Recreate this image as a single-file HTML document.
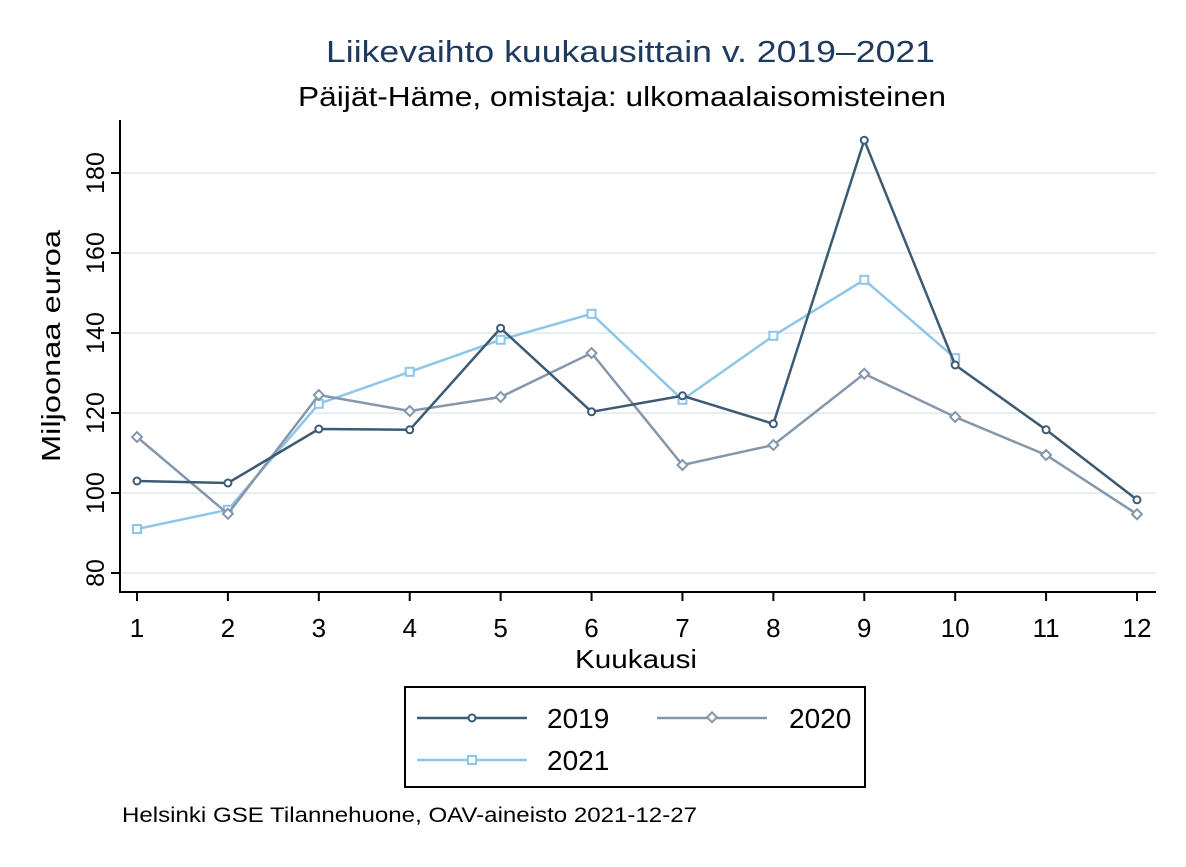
<!DOCTYPE html>
<html><head><meta charset="utf-8"><style>
body{margin:0;background:#fff;font-family:"Liberation Sans",Arial,sans-serif}
</style></head><body>
<svg width="1186" height="862" viewBox="0 0 1186 862" xmlns="http://www.w3.org/2000/svg" font-family="Liberation Sans, Arial, sans-serif">
<rect x="0" y="0" width="1186" height="862" fill="#fff"/>
<text x="326" y="62" font-size="31" fill="#1f3a60" textLength="609" lengthAdjust="spacingAndGlyphs">Liikevaihto kuukausittain v. 2019–2021</text>
<text x="298" y="106" font-size="28" fill="#000" textLength="648" lengthAdjust="spacingAndGlyphs">Päijät-Häme, omistaja: ulkomaalaisomisteinen</text>
<g id="grid"></g>
<g id="axes"></g>
<g id="series"></g>
<text x="575" y="668" font-size="26" textLength="122" lengthAdjust="spacingAndGlyphs">Kuukausi</text>
<text transform="translate(60,462) rotate(-90)" font-size="26" textLength="232" lengthAdjust="spacingAndGlyphs">Miljoonaa euroa</text>
<g>
<rect x="405" y="687" width="460" height="100" fill="#fff" stroke="#000" stroke-width="2"/>
<g>
<line x1="417" y1="718" x2="527" y2="718" stroke="#3d5a73" stroke-width="2.5"/><circle cx="472" cy="718" r="3.5" fill="#fff" stroke="#3d5a73" stroke-width="2"/>
<text x="547" y="728" font-size="28">2019</text></g>
<g>
<line x1="657" y1="718" x2="767" y2="718" stroke="#8497ab" stroke-width="2.5"/><rect x="708" y="714" width="7" height="7" transform="rotate(45 712 718)" fill="#fff" stroke="#8497ab" stroke-width="2"/>
<text x="789" y="728" font-size="28">2020</text></g>
<g>
<line x1="417" y1="760" x2="527" y2="760" stroke="#8ec6ea" stroke-width="2.5"/><rect x="468" y="756" width="8" height="8" fill="#fff" stroke="#8ec6ea" stroke-width="2"/>
<text x="547" y="770" font-size="28">2021</text></g>
</g>
<text x="122" y="822" font-size="21" textLength="575" lengthAdjust="spacingAndGlyphs">Helsinki GSE Tilannehuone, OAV-aineisto 2021-12-27</text>
</svg>
<script>
const months=[1,2,3,4,5,6,7,8,9,10,11,12];
const yTicks=[80,100,120,140,160,180];
const s2019=[103,102.5,116,115.8,141.2,120.3,124.3,117.3,188.2,132,115.8,98.3];
const s2020=[114,94.8,124.5,120.5,124,135,107,112,129.8,119,109.5,94.7];
const s2021=[91,95.8,122.3,130.3,138.3,144.8,123.3,139.3,153.3,133.7];
const NS="http://www.w3.org/2000/svg";
const xs=m=>137+(m-1)*(1000/11);
const ys=v=>573-(v-80)*4;
function mk(t,a,p){const e=document.createElementNS(NS,t);for(const k in a)e.setAttribute(k,a[k]);p.appendChild(e);return e;}
const grid=document.getElementById('grid'),axes=document.getElementById('axes'),ser=document.getElementById('series');
yTicks.forEach(v=>{
 const g=mk('line',{x1:120,x2:1156,y1:ys(v),y2:ys(v),stroke:'#e6eef1','stroke-width':2},grid);
 
 
 mk('line',{x1:111,x2:120,y1:ys(v),y2:ys(v),stroke:'#000','stroke-width':2},axes);
 const t=mk('text',{transform:`translate(104,${ys(v)}) rotate(-90)`,'text-anchor':'middle','font-size':25},axes);
 t.textContent=v;
 
 
});
mk('line',{x1:120,x2:120,y1:120,y2:593,stroke:'#000','stroke-width':2},axes);
mk('line',{x1:119,x2:1156,y1:592,y2:592,stroke:'#000','stroke-width':2},axes);
months.forEach(m=>{
 mk('line',{x1:xs(m),x2:xs(m),y1:592,y2:601,stroke:'#000','stroke-width':2},axes);
 const t=mk('text',{x:xs(m),y:637,'text-anchor':'middle','font-size':26},axes);
 t.textContent=m;
 
 
});
function draw(data,color,shape,name){
 const g=mk('g',{},ser);
 
 
 mk('polyline',{points:data.map((v,i)=>xs(months[i])+','+ys(v)).join(' '),fill:'none',stroke:color,'stroke-width':2.5},g);
 data.forEach((v,i)=>{
  const x=xs(months[i]),y=ys(v);let p;
  if(shape==='c')p=mk('circle',{cx:x,cy:y,r:3.5,fill:'#fff',stroke:color,'stroke-width':2},g);
  else if(shape==='d')p=mk('rect',{x:x-3.5,y:y-3.5,width:7,height:7,transform:`rotate(45 ${x} ${y})`,fill:'#fff',stroke:color,'stroke-width':2},g);
  else p=mk('rect',{x:x-4,y:y-4,width:8,height:8,fill:'#fff',stroke:color,'stroke-width':2},g);
  
  
 });
}
draw(s2021,'#8ec6ea','s','series-2021');
draw(s2020,'#8497ab','d','series-2020');
draw(s2019,'#3d5a73','c','series-2019');
</script>
</body></html>
